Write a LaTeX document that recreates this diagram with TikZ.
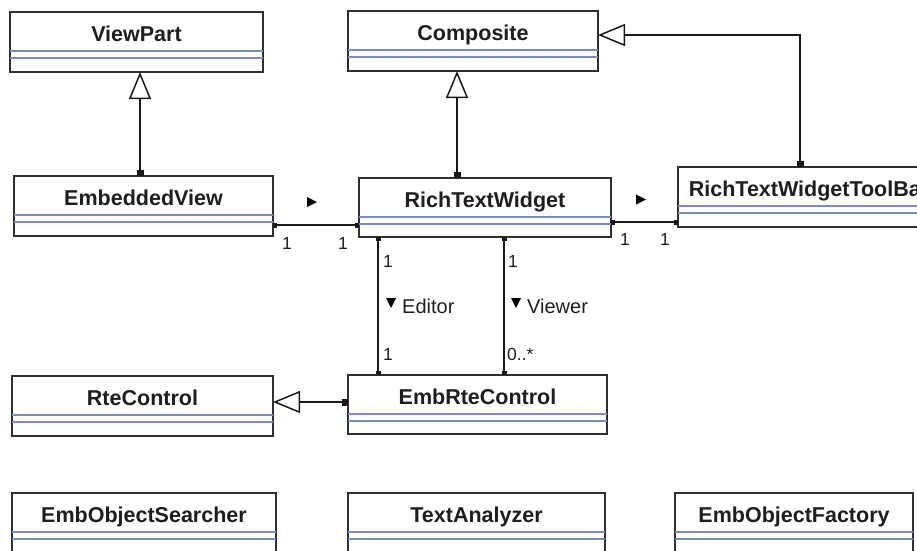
\documentclass[tikz,border=0pt]{standalone}
\usepackage{fontspec}
\setmainfont{Liberation Sans}
\usetikzlibrary{arrows.meta,calc}
\definecolor{boxline}{HTML}{303030}
\definecolor{sepblue}{HTML}{7C8CC0}
\definecolor{txt}{HTML}{1E1E1E}
\newcommand\umlclass[6]{%
  \node[clsbox, minimum width={#4pt-#2pt}, minimum height={#5pt-#3pt}] (#1) at (#2,#3) {};
  \draw[sepline] ([yshift=-39pt]#1.north west) -- ([yshift=-39pt]#1.north east);
  \draw[sepline] ([yshift=-46pt]#1.north west) -- ([yshift=-46pt]#1.north east);
  \node[clsname] (#1-t) at ([yshift=-29.5pt]#1.north) {#6};
}
\begin{document}
\begin{tikzpicture}[x=1pt,y=-1pt,
  clsbox/.style={draw=boxline, line width=1.4pt, fill=white, inner sep=0pt, outer sep=0pt, anchor=north west},
  clsname/.style={font=\fontsize{21.5}{23}\selectfont\bfseries, text=txt, inner sep=0pt, anchor=base},
  sepline/.style={draw=sepblue, line width=1.1pt},
  conn/.style={draw=black!90, line width=1.5pt},
  gen/.style={conn, {Square[length=6pt,width=7pt]}-{Triangle[open,length=27pt,width=22pt,fill=white]}},
  assoc/.style={conn, {Square[length=4pt,width=5pt]}-{Square[length=4pt,width=5pt]}},
  num/.style={font=\fontsize{17.5}{19}\selectfont, text=txt, inner sep=0pt, anchor=base},
  role/.style={font=\fontsize{20}{22}\selectfont, text=txt, inner sep=0pt, anchor=base west},
  dirmark/.style={fill=black}
]
\useasboundingbox (0,0) rectangle (917,550);
\clip (0,0) rectangle (917,550);

% classes
\umlclass{vp}{10}{12}{263}{72}{ViewPart}
\umlclass{cp}{348}{11}{598}{71}{Composite}
\umlclass{ev}{14}{176}{273}{236}{EmbeddedView}
\umlclass{rtw}{359}{178}{611}{237}{RichTextWidget}
\umlclass{tb}{678}{167}{940}{227}{RichTextWidgetToolBar}
\umlclass{rc}{12}{376}{273}{436}{RteControl}
\umlclass{erc}{348}{375}{607}{434}{EmbRteControl}
\umlclass{eos}{12}{493}{276}{560}{EmbObjectSearcher}
\umlclass{ta}{348}{493}{605}{560}{TextAnalyzer}
\umlclass{eof}{675}{493}{913}{560}{EmbObjectFactory}

% generalizations
\draw[gen] ([xshift=-3.5pt]ev.north) -- ([xshift=-3.5pt]ev.north |- vp.south);
\draw[gen] ([xshift=-28pt]rtw.north) -- ([xshift=-28pt]rtw.north |- cp.south);
\draw[gen] ([xshift=-9pt]tb.north) |- ([yshift=6pt]cp.east);
\draw[gen] ([yshift=2.5pt]erc.west) -- ([yshift=2.5pt]erc.west -| rc.east);

% associations
\draw[assoc] ([yshift=-19pt]ev.east) -- ([yshift=-19pt]ev.east -| rtw.west);
\draw[assoc] ([yshift=-14.5pt]rtw.east) -- ([yshift=-14.5pt]rtw.east -| tb.west);
\draw[assoc] ([xshift=-107pt]rtw.south) -- ([xshift=-107pt]rtw.south |- erc.north);
\draw[assoc] ([xshift=19pt]rtw.south) -- ([xshift=19pt]rtw.south |- erc.north);

% direction markers
\coordinate (m1) at (312,202);
\coordinate (m2) at (641,199.5);
\coordinate (m3) at (391,303);
\coordinate (m4) at (516,303);
\fill[dirmark] (m1) +(-5,-5) -- +(5,0) -- +(-5,5) -- cycle;
\fill[dirmark] (m2) +(-5,-5) -- +(5,0) -- +(-5,5) -- cycle;
\fill[dirmark] (m3) +(-5,-5) -- +(5,-5) -- +(0,5) -- cycle;
\fill[dirmark] (m4) +(-5,-5) -- +(5,-5) -- +(0,5) -- cycle;

% multiplicities
\node[num] (n1) at (287,249) {1};
\node[num] (n2) at (343,249) {1};
\node[num] (n3) at (625,245) {1};
\node[num] (n4) at (665,245) {1};
\node[num] (n5) at (388,267) {1};
\node[num] (n6) at (513,267) {1};
\node[num] (n7) at (388,360) {1};
\node[num, anchor=base west] (n8) at (507,360) {0..*};

% role names
\node[role] (r1) at (402,313) {Editor};
\node[role] (r2) at (527,313) {Viewer};
\end{tikzpicture}
\end{document}
